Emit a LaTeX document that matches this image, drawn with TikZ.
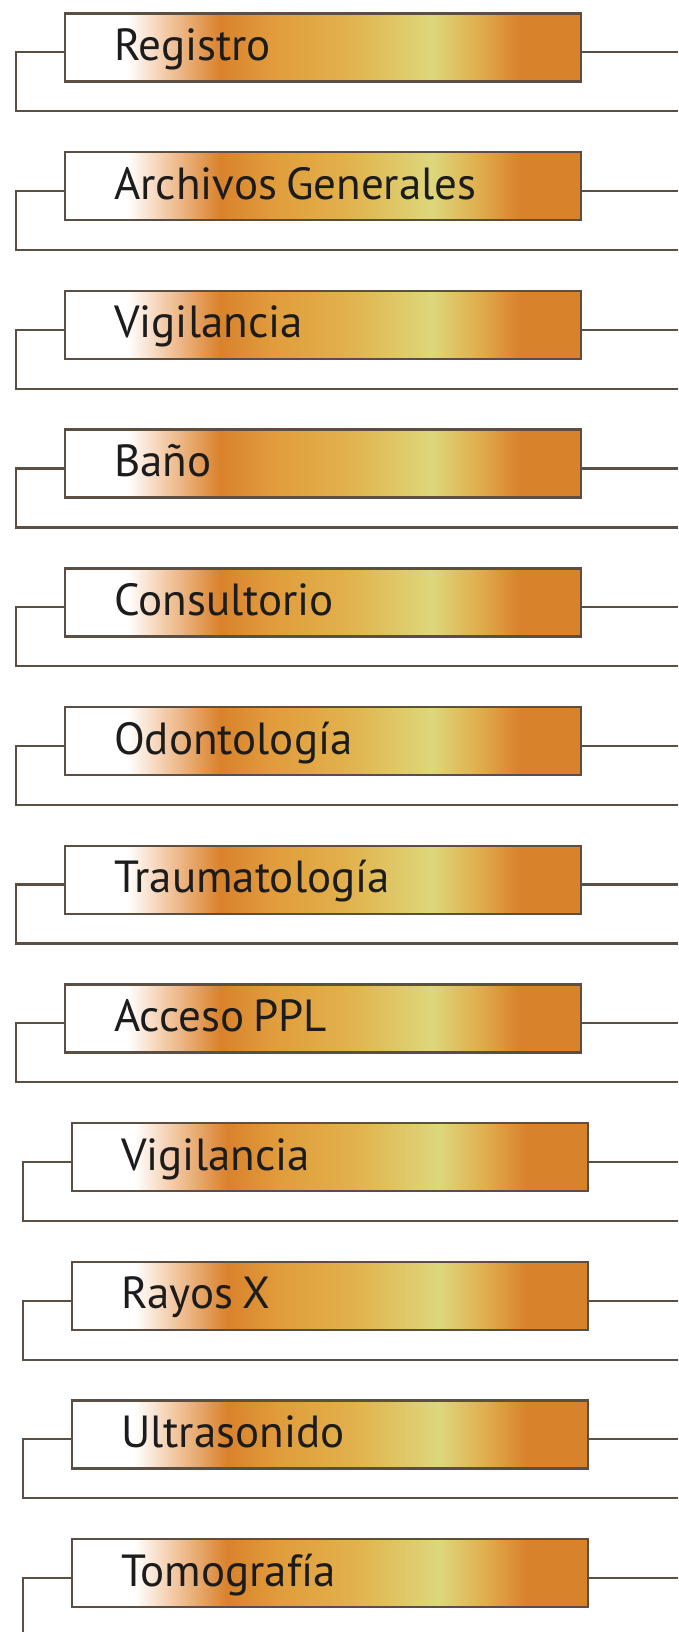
\documentclass[tikz,border=0pt]{standalone}
\usepackage{fontspec}
\setsansfont{PT Sans}
\usetikzlibrary{calc}
\definecolor{frameBrown}{HTML}{5B4E42}
\definecolor{barPeach}{HTML}{F2C6A0}
\definecolor{barOrange}{HTML}{D9822C}
\definecolor{barAmber}{HTML}{E19C3C}
\definecolor{barGold}{HTML}{E2B24C}
\definecolor{barPale}{HTML}{DDD77C}
\definecolor{barLight}{HTML}{E0AE4E}
\definecolor{inkDark}{HTML}{1C1C1C}

%% brass bar: the 25bp..75bp part lands on the box
\pgfdeclarehorizontalshading{brassBar}{100bp}{%
  color(0bp)=(white); color(25bp)=(white); color(31bp)=(white);
  color(35bp)=(barPeach); color(40bp)=(barOrange); color(45bp)=(barAmber);
  color(52.5bp)=(barGold); color(60.5bp)=(barPale); color(65bp)=(barLight);
  color(69bp)=(barOrange); color(75bp)=(barOrange); color(100bp)=(barOrange)}

\begin{document}
\begin{tikzpicture}[
  x=1pt, y=-1pt,
  font=\sffamily,
  %% Node styles
  areabox/.style={
    draw=frameBrown, line width=2.4pt, shade, shading=brassBar,
    minimum width=516pt, minimum height=68pt,
    text width=418pt, inner xsep=49pt, inner ysep=0pt,
    text height=47pt, text depth=21pt, align=left,
    anchor=north west, text=inkDark,
    font=\sffamily\fontsize{45}{47}\selectfont,
    execute at begin node={\spaceskip=.2em\relax}
  },
  %% Line styles
  link/.style={draw=frameBrown, line width=2.2pt},
]

%% ── Canvas ─────────────────────────────────────────────────────────────────
\fill[white] (0,0) rectangle (678,1632);
\useasboundingbox (0,0) rectangle (678,1632);
\clip (0,0) rectangle (678,1632);

%% ── Rows: box, left bracket, right stub ───────────────────────────────────
\foreach \lab/\dx [count=\i] in {Registro/0, Archivos Generales/0,
    Vigilancia/0, Baño/0, Consultorio/0, Odontología/0, Traumatología/0,
    Acceso PPL/0, Vigilancia/7, Rayos X/7, Ultrasonido/7, Tomografía/7}{
  \pgfmathsetmacro{\rowy}{12.3+138.7*(\i-1)}
  \node[areabox] (b\i) at (64+\dx, \rowy) {\lab};
  \coordinate (j\i) at ($(b\i.north west)+(0,40)$);
  \coordinate (c\i) at (16+\dx, \rowy+40);
  \coordinate (k\i) at (16+\dx, \rowy+99);
  \coordinate (e\i) at (678, \rowy+99);
  \coordinate (r\i) at (678, \rowy+40);
  \draw[link] (j\i) -- (c\i) -- (k\i) -- (e\i);
  \draw[link] (b\i.east |- j\i) -- (r\i);
}

\end{tikzpicture}
\end{document}
